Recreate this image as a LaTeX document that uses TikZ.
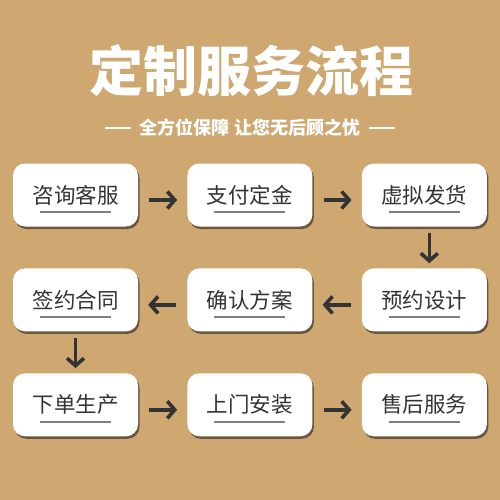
\documentclass[tikz,border=0pt]{standalone}
\usepackage{fontspec}
\newfontfamily\cjk{Noto Sans CJK SC}
\usetikzlibrary{positioning, arrows.meta, shadows}

\definecolor{bgtan}{RGB}{207,167,112}
\definecolor{inkgray}{RGB}{51,51,51}
\definecolor{linegray}{RGB}{128,128,128}
\definecolor{shadowbrown}{RGB}{95,78,60}

\begin{document}
\begin{tikzpicture}[
  x=1pt, y=1pt,
  font=\cjk,
  node distance=41.5pt and 49pt,
  stepbox/.style={fill=white, rounded corners=12pt, minimum width=125pt,
                  minimum height=63pt, text=inkgray,
                  font=\cjk\fontsize{21.5}{24}\selectfont,
                  drop shadow={shadow xshift=1.5pt, shadow yshift=-2.5pt,
                               fill=shadowbrown, opacity=0.9}},
  underl/.style={draw=linegray, line width=2pt},
  arrow/.style={-{Straight Barb[length=7.5pt,width=17pt]}, line width=3.6pt,
                draw=inkgray},
  harrow/.style={arrow, shorten <=11pt, shorten >=10pt},
  varrow/.style={arrow, shorten <=6pt, shorten >=5pt},
  rule/.style={draw=white, line width=1.3pt}
]

\fill[bgtan] (0,0) rectangle (500,-500);
\useasboundingbox (0,0) rectangle (500,-500);

% heading
\node[text=white, inner sep=0, font=\cjk\bfseries\fontsize{54}{60}\selectfont]
  (title) at (251,-71) {定制服务流程};
\node[text=white, inner sep=0, font=\cjk\bfseries\fontsize{18}{22}\selectfont]
  (motto) at (250,-128) {全方位保障 让您无后顾之忧};
\draw[rule] ([xshift=-9pt]motto.west) -- ++(-26,0);
\draw[rule] ([xshift=9pt]motto.east) -- ++(26,0);

% steps
\node[stepbox] (consult) at (75.5,-195) {咨询客服};
\node[stepbox, right=of consult] (deposit) {支付定金};
\node[stepbox, right=of deposit] (ship) {虚拟发货};
\node[stepbox, below=of ship] (design) {预约设计};
\node[stepbox, left=of design] (confirm) {确认方案};
\node[stepbox, left=of confirm] (contract) {签约合同};
\node[stepbox, below=of contract] (produce) {下单生产};
\node[stepbox, right=of produce] (install) {上门安装};
\node[stepbox, right=of install] (aftersale) {售后服务};

\foreach \n in {consult,deposit,ship,design,confirm,contract,produce,install,aftersale}
  \draw[underl] ([shift={(-35.5pt,-17pt)}]\n.center) -- ([shift={(35.5pt,-17pt)}]\n.center);

% flow
\draw[harrow] ([yshift=-5pt]consult.east) -- ([yshift=-5pt]deposit.west);
\draw[harrow] ([yshift=-5pt]deposit.east) -- ([yshift=-5pt]ship.west);
\draw[varrow] ([xshift=5pt]ship.south) -- ([xshift=5pt]design.north);
\draw[harrow] ([yshift=-5pt]design.west) -- ([yshift=-5pt]confirm.east);
\draw[harrow] ([yshift=-5pt]confirm.west) -- ([yshift=-5pt]contract.east);
\draw[varrow] (contract.south) -- (produce.north);
\draw[harrow] ([yshift=-5pt]produce.east) -- ([yshift=-5pt]install.west);
\draw[harrow] ([yshift=-5pt]install.east) -- ([yshift=-5pt]aftersale.west);

\end{tikzpicture}
\end{document}
